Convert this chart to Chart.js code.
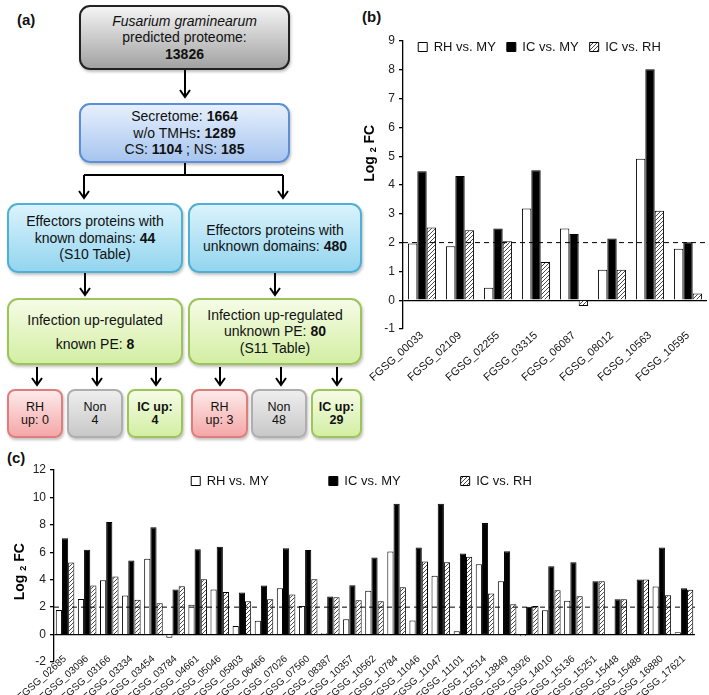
<!DOCTYPE html>
<html>
<head>
<meta charset="utf-8">
<script src="https://cdn.jsdelivr.net/npm/chart.js@4"></script>
<style>
  html, body { margin: 0; padding: 0; background: #fff; overflow: hidden; }
  body { width: 709px; height: 695px; position: relative; font-family: "Liberation Sans", Arial, sans-serif; color: #111; }
  .tag { position: absolute; font-weight: bold; font-size: 15px; }
  .box { position: absolute; box-sizing: border-box; border-radius: 11px; border: 2px solid #333;
         display: flex; align-items: center; justify-content: center; text-align: center;
         font-size: 14px; line-height: 16.5px; box-shadow: 1px 2px 3px rgba(0,0,0,0.25); }
  .small { border-radius: 8px; font-size: 12.5px; line-height: 13px; }
  .gray { background: linear-gradient(#f4f4f4, #a2a2a2); border-color: #222; }
  .blue { background: linear-gradient(#e6f0fd, #a7c5ef); border-color: #5d8fd8; }
  .cyan { background: linear-gradient(#daf3fc, #93d5ef); border-color: #4fb0d3; }
  .green { background: linear-gradient(#f5fce6, #d3eea3); border-color: #9cc45a; }
  .red { background: linear-gradient(#fdeaea, #f4a7a7); border-color: #df7c7c; }
  .lgray { background: linear-gradient(#eeeeee, #c8c8c8); border-color: #aeaeae; }
  #wrapB { position: absolute; left: 360px; top: 0; width: 349px; height: 430px; }
  #wrapC { position: absolute; left: 0; top: 440px; width: 709px; height: 300px; }
</style>
</head>
<body>
<div class="tag" style="left:17px;top:11px">(a)</div>
<div class="tag" style="left:362px;top:8px">(b)</div>
<div class="tag" style="left:7px;top:449px">(c)</div>

<div class="box gray" style="left:79px;top:5px;width:211px;height:65px">
  <div><i>Fusarium graminearum</i><br>predicted proteome:<br><b>13826</b></div>
</div>
<div class="box blue" style="left:79px;top:103px;width:211px;height:60px">
  <div>Secretome: <b>1664</b><br>w/o TMHs<b>: 1289</b><br>CS: <b>1104</b> ; NS: <b>185</b></div>
</div>
<div class="box cyan" style="left:7px;top:203px;width:176px;height:70px">
  <div>Effectors proteins with<br>known domains: <b>44</b><br>(S10 Table)</div>
</div>
<div class="box cyan" style="left:188px;top:203px;width:174px;height:70px">
  <div>Effectors proteins with<br>unknown domains: <b>480</b></div>
</div>
<div class="box green" style="left:7px;top:298px;width:176px;height:67px">
  <div style="line-height:24px">Infection up-regulated<br>known PE: <b>8</b></div>
</div>
<div class="box green" style="left:188px;top:298px;width:174px;height:67px">
  <div>Infection up-regulated<br>unknown PE: <b>80</b><br>(S11 Table)</div>
</div>

<div class="box small red" style="left:7px;top:389px;width:56px;height:49px"><div>RH<br>up: 0</div></div>
<div class="box small lgray" style="left:67px;top:389px;width:56px;height:49px"><div>Non<br>4</div></div>
<div class="box small green" style="left:127px;top:389px;width:56px;height:49px"><div><b>IC up:<br>4</b></div></div>
<div class="box small red" style="left:191px;top:389px;width:57px;height:49px"><div>RH<br>up: 3</div></div>
<div class="box small lgray" style="left:251px;top:389px;width:56px;height:49px"><div>Non<br>48</div></div>
<div class="box small green" style="left:311px;top:389px;width:51px;height:49px"><div><b>IC up:<br>29</b></div></div>

<svg style="position:absolute;left:0;top:0" width="370" height="445" fill="none" stroke="#000" stroke-width="2">
  <path d="M185 70 V97 M180 90 L185 97 L190 90"/>
  <path d="M185 163 V175 M84 175 H283"/>
  <path d="M84 175 V198 M79 191 L84 198 L89 191"/>
  <path d="M283 175 V198 M278 191 L283 198 L288 191"/>
  <path d="M85 273 V295 M80 288 L85 295 L90 288"/>
  <path d="M275 273 V295 M270 288 L275 295 L280 288"/>
  <path d="M37 367 V385 M32 378 L37 385 L42 378"/>
  <path d="M97 367 V385 M92 378 L97 385 L102 378"/>
  <path d="M156 367 V385 M151 378 L156 385 L161 378"/>
  <path d="M220 367 V385 M215 378 L220 385 L225 378"/>
  <path d="M281 367 V385 M276 378 L281 385 L286 378"/>
  <path d="M337 367 V385 M332 378 L337 385 L342 378"/>
</svg>

<div id="wrapB"><canvas id="chartB"></canvas></div>
<div id="wrapC"><canvas id="chartC"></canvas></div>

<script>
// (b) known effector proteins
let genesB = ["FGSG_00033", "FGSG_02109", "FGSG_02255", "FGSG_03315", "FGSG_06087", "FGSG_08012", "FGSG_10563", "FGSG_10595"];
let rhVsMyB = [1.97, 1.87, 0.43, 3.18, 2.49, 1.06, 4.91, 1.79];
let icVsMyB = [4.48, 4.31, 2.49, 4.51, 2.3, 2.14, 8.02, 2.01];
let icVsRhB = [2.52, 2.43, 2.05, 1.33, -0.2, 1.06, 3.11, 0.23];

// (c) unknown effector proteins
let genesC = ["FGSG_02685", "FGSG_03096", "FGSG_03166", "FGSG_03334", "FGSG_03454", "FGSG_03784", "FGSG_04661", "FGSG_05046",
  "FGSG_05803", "FGSG_06466", "FGSG_07026", "FGSG_07560", "FGSG_08387", "FGSG_10357", "FGSG_10562", "FGSG_10784",
  "FGSG_11046", "FGSG_11047", "FGSG_11101", "FGSG_12514", "FGSG_13849", "FGSG_13926", "FGSG_14010", "FGSG_15136",
  "FGSG_15251", "FGSG_15448", "FGSG_15488", "FGSG_16880", "FGSG_17621"];
let rhVsMyC = [1.8, 2.6, 3.97, 2.85, 5.52, -0.24, 2.17, 3.28, 0.63, 1.0, 3.38, 2.09, 0.1, 1.12, 3.19, 6.06,
  1.02, 4.28, 0.24, 5.13, 3.89, -0.12, 1.78, 2.46, 0, 0, 0, 3.5, 0.17];
let icVsMyC = [7.03, 6.18, 8.2, 5.4, 7.83, 3.28, 6.23, 6.4, 3.07, 3.58, 6.3, 6.16, 2.77, 3.6, 5.62, 9.54,
  6.35, 9.54, 5.91, 8.13, 6.08, 2.02, 4.99, 5.28, 3.89, 2.58, 4.01, 6.35, 3.38];
let icVsRhC = [5.26, 3.58, 4.23, 2.53, 2.29, 3.53, 4.04, 3.11, 2.43, 2.58, 2.92, 4.04, 2.72, 2.5, 2.43, 3.45,
  5.33, 5.28, 5.67, 2.99, 2.21, 2.09, 3.24, 2.8, 3.89, 2.58, 4.01, 2.87, 3.26];

let seriesNames = ["RH vs. MY", "IC vs. MY", "IC vs. RH"];
let thresholdFC = 2;

const FONT = "'Liberation Sans', Arial, sans-serif";

function makeHatch() {
  const c = document.createElement("canvas");
  c.width = 4;
  c.height = 4;
  const g = c.getContext("2d");
  g.fillStyle = "#fff";
  g.fillRect(0, 0, 4, 4);
  g.strokeStyle = "#4a4a4a";
  g.lineWidth = 1;
  g.beginPath();
  g.moveTo(0, 4); g.lineTo(4, 0);
  g.moveTo(-1, 1); g.lineTo(1, -1);
  g.moveTo(3, 5); g.lineTo(5, 3);
  g.stroke();
  return g.createPattern(c, "repeat");
}

// dashed line at log2 FC = 2
const thresholdLine = {
  id: "thresholdLine",
  afterDatasetsDraw(chart, args, opts) {
    const ctx = chart.ctx;
    const area = chart.chartArea;
    const y = chart.scales.y.getPixelForValue(opts.value);
    ctx.save();
    ctx.strokeStyle = "#000";
    ctx.lineWidth = 1;
    ctx.setLineDash([5, 4]);
    ctx.beginPath();
    ctx.moveTo(area.left, y);
    ctx.lineTo(area.right, y);
    ctx.stroke();
    ctx.restore();
  }
};

// puts the legend inside the plot area
const legendInside = {
  id: "legendInside",
  afterLayout(chart, args, opts) {
    const lg = chart.legend;
    const lab = chart.options.plugins.legend.labels;
    lg.top = opts.centerY - lab.padding - lab.font.size / 2;
    lg.bottom = lg.top + lab.padding * 2 + lab.font.size + 4;
    lg.left += opts.shiftX;
    lg.right += opts.shiftX;
  }
};

// "Log 2 FC" with subscript
const yTitle = {
  id: "yTitle",
  afterDraw(chart, args, opts) {
    const ctx = chart.ctx;
    const area = chart.chartArea;
    ctx.save();
    ctx.translate(opts.x, area.top + (area.bottom - area.top) * opts.frac);
    ctx.rotate(-Math.PI / 2);
    ctx.fillStyle = "#000";
    ctx.textBaseline = "middle";
    const big = "bold 14px " + FONT;
    const sub = "bold 9px " + FONT;
    ctx.font = big;
    const w1 = ctx.measureText("Log ").width;
    const w3 = ctx.measureText(" FC").width;
    ctx.font = sub;
    const w2 = ctx.measureText("2").width;
    let x = -(w1 + w2 + w3) / 2;
    ctx.font = big;
    ctx.fillText("Log ", x, 0);
    ctx.font = sub;
    ctx.fillText("2", x + w1, 4);
    ctx.font = big;
    ctx.fillText(" FC", x + w1 + w2, 0);
    ctx.restore();
  }
};

function buildChart(id, cfg) {
  const hatch = makeHatch();
  const sets = [cfg.rh, cfg.ic, cfg.icRh];
  const fills = ["#fff", "#000", hatch];
  return new Chart(document.getElementById(id), {
    type: "bar",
    data: {
      labels: cfg.labels,
      datasets: sets.map((d, i) => ({
        label: seriesNames[i],
        data: d,
        backgroundColor: fills[i],
        borderColor: "#000",
        borderWidth: 1,
        categoryPercentage: cfg.catPct,
        barPercentage: 1
      }))
    },
    options: {
      responsive: true,
      maintainAspectRatio: false,
      animation: false,
      layout: { padding: { top: cfg.padTop, right: cfg.padRight, left: 0, bottom: 0 } },
      plugins: {
        tooltip: { enabled: false },
        legend: {
          position: "top",
          maxHeight: 1,
          labels: {
            boxWidth: 9,
            boxHeight: 9,
            padding: cfg.legendPad,
            color: "#111",
            font: { family: FONT, size: 13 }
          }
        },
        legendInside: { centerY: cfg.legendY, shiftX: cfg.legendShift },
        thresholdLine: { value: thresholdFC },
        yTitle: { x: cfg.titleX, frac: cfg.titleFrac }
      },
      scales: {
        x: {
          grid: { display: false, drawTicks: false },
          border: { display: false },
          ticks: {
            autoSkip: false,
            minRotation: 42,
            maxRotation: 42,
            padding: cfg.xPad,
            color: "#111",
            font: { family: FONT, size: cfg.xFont }
          },
          afterFit: s => {
            s.height = cfg.xHeight;
            // let the rotated names reach up into the plot, as in the original
            s._computeLabelArea = () => undefined;
          }
        },
        y: {
          min: cfg.yMin,
          max: cfg.yMax,
          ticks: {
            stepSize: cfg.yStep,
            color: "#222",
            padding: 4,
            font: { family: FONT, size: 12 }
          },
          grid: {
            color: c => (c.tick && c.tick.value === 0 ? "#000" : "rgba(0,0,0,0)"),
            lineWidth: 1.3,
            tickColor: "#000",
            tickLength: 4
          },
          border: { display: true, color: "#000", width: 1.3 },
          afterFit: s => { s.width = cfg.yWidth; }
        }
      }
    },
    plugins: [thresholdLine, legendInside, yTitle]
  });
}

buildChart("chartB", {
  labels: genesB, rh: rhVsMyB, ic: icVsMyB, icRh: icVsRhB,
  catPct: 0.74, padTop: 40, padRight: 2, legendPad: 11, legendY: 47, legendShift: 6,
  titleX: 10, titleFrac: 0.39, xPad: 0, xFont: 11, xHeight: 101,
  yMin: -1, yMax: 9, yStep: 1, yWidth: 43
});

buildChart("chartC", {
  labels: genesC, rh: rhVsMyC, ic: icVsMyC, icRh: icVsRhC,
  catPct: 0.84, padTop: 29, padRight: 14, legendPad: 60, legendY: 41, legendShift: 14,
  titleX: 20, titleFrac: 0.53, xPad: -9, xFont: 10, xHeight: 78,
  yMin: -2, yMax: 12, yStep: 2, yWidth: 54
});
</script>
</body>
</html>
